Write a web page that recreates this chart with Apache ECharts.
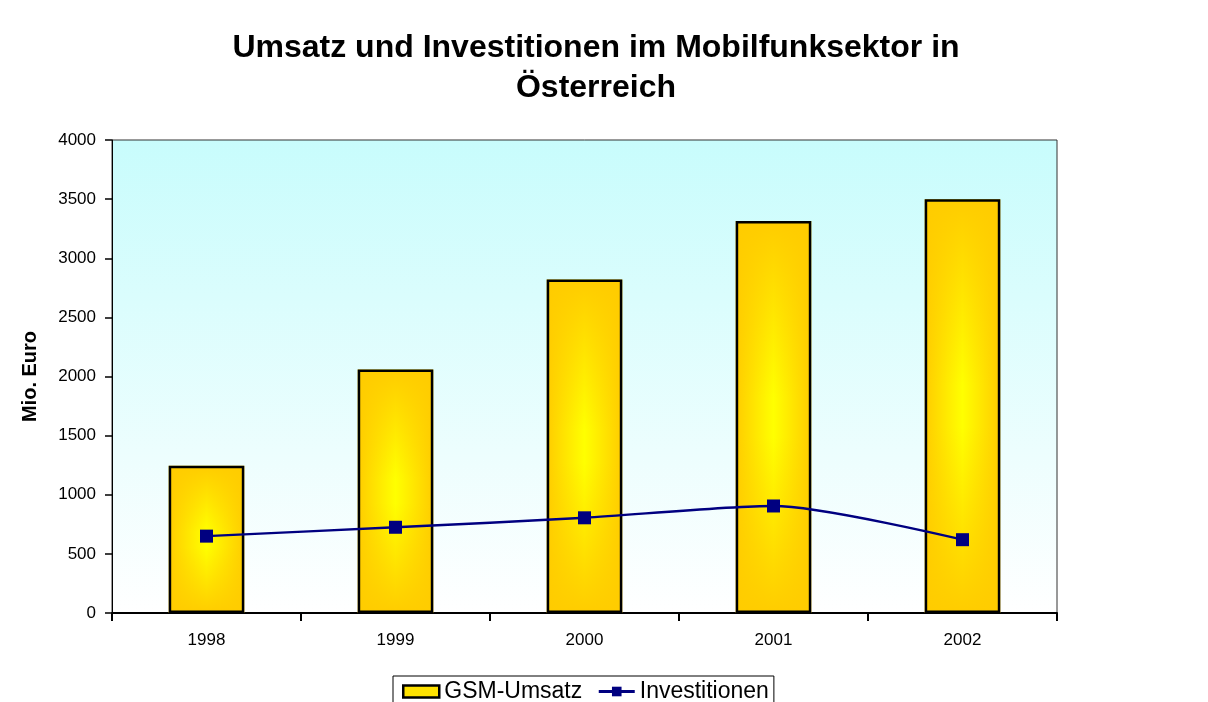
<!DOCTYPE html>
<html>
<head>
<meta charset="utf-8">
<script src="https://cdn.jsdelivr.net/npm/echarts@6/dist/echarts.min.js"></script>
<style>
  html, body { margin: 0; padding: 0; background: #fff; }
  #main { width: 1208px; height: 702px; }
</style>
</head>
<body>
<div id="main"></div>
<script>
// data
const years = ["1998", "1999", "2000", "2001", "2002"];
const umsatz = [1245, 2060, 2820, 3315, 3500];
const investitionen = [650, 725, 805, 905, 620];
const yTicks = [0, 500, 1000, 1500, 2000, 2500, 3000, 3500, 4000];

const gold = "#FFCC00";
const myChart = echarts.init(document.getElementById("main"));

const option = {
  backgroundColor: "#fff",
  animation: false,
  textStyle: { fontFamily: "Liberation Sans, Arial, sans-serif" },
  title: {
    text: "Umsatz und Investitionen im Mobilfunksektor in\nÖsterreich",
    left: 591,
    textAlign: "center",
    top: 23,
    textStyle: {
      color: "#000",
      fontSize: 32,
      fontWeight: "bold",
      lineHeight: 40
    }
  },
  grid: {
    left: 112,
    right: 151,
    top: 140,
    bottom: 89,
    show: true,
    borderColor: "#333",
    borderWidth: 1,
    backgroundColor: new echarts.graphic.LinearGradient(0, 0, 0, 1, [
      { offset: 0, color: "#C8FCFC" },
      { offset: 1, color: "#FFFFFF" }
    ])
  },
  legend: {
    left: 393,
    top: 676,
    data: [
      {
        name: "GSM-Umsatz",
        icon: "rect",
        itemStyle: { color: "#FFE200", borderColor: "#000", borderWidth: 2.5 }
      },
      {
        name: "Investitionen",
        lineStyle: { width: 3 }
      }
    ],
    itemWidth: 36,
    itemHeight: 12,
    itemGap: 15,
    padding: [4, 5, 4, 9],
    borderColor: "#000",
    borderWidth: 1,
    textStyle: { color: "#000", fontSize: 23 }
  },
  xAxis: {
    type: "category",
    data: years,
    axisLine: { lineStyle: { color: "#000", width: 2 } },
    axisTick: { show: true, length: 8, lineStyle: { color: "#000", width: 2 } },
    axisLabel: { color: "#000", fontSize: 17, margin: 19 },
    splitLine: { show: false }
  },
  yAxis: {
    type: "value",
    min: 0,
    max: 4000,
    interval: 500,
    name: "Mio. Euro",
    nameLocation: "middle",
    nameGap: 72,
    nameTextStyle: { color: "#000", fontSize: 20, fontWeight: "bold" },
    axisLine: { show: true, lineStyle: { color: "#000", width: 1 } },
    axisTick: { show: true, length: 7, lineStyle: { color: "#000", width: 1.5 } },
    axisLabel: {
      color: "#000",
      fontSize: 17,
      margin: 16,
      formatter: v => (yTicks.indexOf(v) >= 0 ? String(v) : "")
    },
    splitLine: { show: false }
  },
  series: [
    {
      name: "GSM-Umsatz",
      type: "bar",
      data: umsatz,
      barWidth: "40%",
      itemStyle: {
        color: new echarts.graphic.LinearGradient(0, 0, 1, 0, [
          { offset: 0, color: gold },
          { offset: 0.5, color: "#FFFF00" },
          { offset: 1, color: gold }
        ])
      }
    },
    {
      // vertical fade back to gold at top and bottom
      name: "GSM-Umsatz-shade",
      type: "bar",
      data: umsatz,
      barWidth: "40%",
      barGap: "-100%",
      itemStyle: {
        borderColor: "#000",
        borderWidth: 2.5,
        color: new echarts.graphic.LinearGradient(0, 0, 0, 1, [
          { offset: 0, color: "rgba(255,204,0,1)" },
          { offset: 0.45, color: "rgba(255,204,0,0)" },
          { offset: 0.55, color: "rgba(255,204,0,0)" },
          { offset: 1, color: "rgba(255,204,0,1)" }
        ])
      }
    },
    {
      name: "Investitionen",
      type: "line",
      data: investitionen,
      z: 5,
      smooth: 0.25,
      symbol: "rect",
      symbolSize: 13,
      lineStyle: { color: "#000080", width: 2.4 },
      itemStyle: { color: "#000080" }
    }
  ]
};

option && myChart.setOption(option);
</script>
</body>
</html>
